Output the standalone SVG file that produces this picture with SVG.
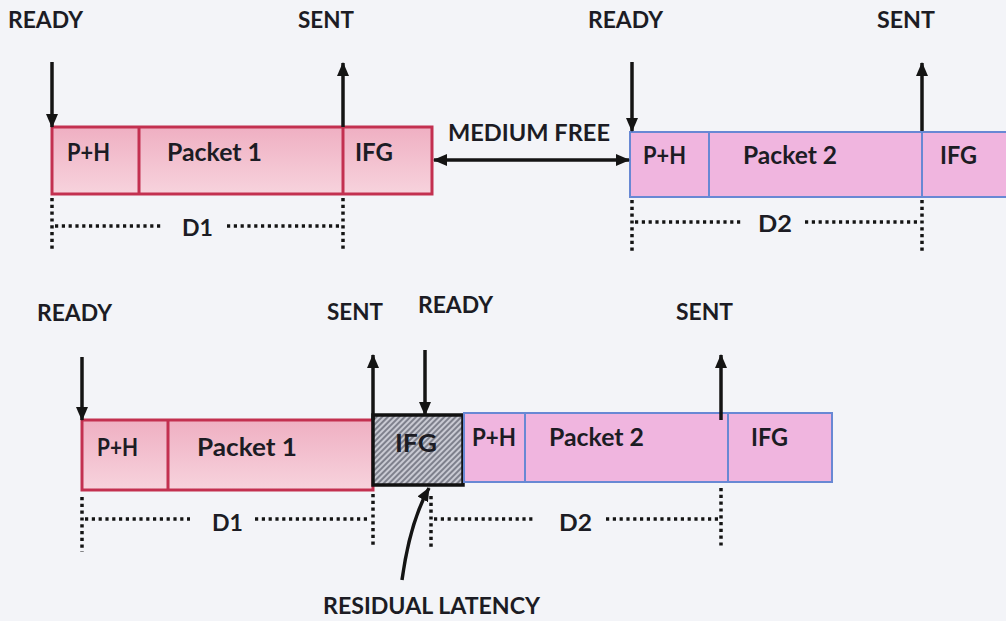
<svg xmlns="http://www.w3.org/2000/svg" width="1006" height="621" viewBox="0 0 1006 621">
  <style>
    .lbl { font-family: Lato, "Open Sans", "Liberation Sans", sans-serif; font-weight: 700; font-size: 22px; fill: #1c1c24; }
    .box-lbl { font-family: Lato, "Open Sans", "Liberation Sans", sans-serif; font-weight: 700; font-size: 24px; fill: #1c1c24; }
    .red { fill: url(#redFill); stroke: #c33050; stroke-width: 3; }
    .red-div { stroke: #c33050; stroke-width: 3; }
    .blue { fill: #f0b5df; stroke: #6888d4; stroke-width: 2; }
    .blue-div { stroke: #6888d4; stroke-width: 2; }
    .arrow { stroke: #141414; stroke-width: 3.5; fill: none; }
    .dots { stroke: #141414; stroke-width: 3.5; stroke-dasharray: 3.2 3.6; fill: none; }
  </style>
  <defs>
    <linearGradient id="redFill" x1="0" y1="0" x2="0" y2="1">
      <stop offset="0" stop-color="#efafc2"/>
      <stop offset="1" stop-color="#f7d3dd"/>
    </linearGradient>
    <pattern id="hatch" width="4" height="4" patternUnits="userSpaceOnUse" patternTransform="rotate(45)">
      <rect width="4" height="4" fill="#c9cad3"/>
      <rect width="2" height="4" fill="#7e808c"/>
    </pattern>
    <marker id="head" viewBox="0 0 14 12" refX="13" refY="6" markerWidth="14" markerHeight="12" markerUnits="userSpaceOnUse" orient="auto-start-reverse">
      <path d="M0,0 L14,6 L0,12 Z" fill="#141414"/>
    </marker>
  </defs>

  <rect width="1006" height="621" fill="#f3f4f8"/>

  <!-- Upper timeline: packet 1 frame -->
  <g id="frame1-top">
    <rect class="red" x="52" y="127" width="380" height="67"/>
    <line class="red-div" x1="139" y1="127" x2="139" y2="194"/>
    <line class="red-div" x1="343" y1="127" x2="343" y2="194"/>
    <text class="box-lbl" x="67" y="161" textLength="43" lengthAdjust="spacingAndGlyphs">P+H</text>
    <text class="box-lbl" x="167" y="161" textLength="95" lengthAdjust="spacingAndGlyphs">Packet 1</text>
    <text class="box-lbl" x="355" y="161" textLength="38" lengthAdjust="spacingAndGlyphs">IFG</text>
  </g>

  <!-- Upper timeline: packet 2 frame (runs off the right edge) -->
  <g id="frame2-top">
    <rect class="blue" x="630" y="132" width="400" height="65"/>
    <line class="blue-div" x1="709" y1="132" x2="709" y2="197"/>
    <line class="blue-div" x1="922" y1="132" x2="922" y2="197"/>
    <text class="box-lbl" x="643" y="164" textLength="43" lengthAdjust="spacingAndGlyphs">P+H</text>
    <text class="box-lbl" x="743" y="164" textLength="94" lengthAdjust="spacingAndGlyphs">Packet 2</text>
    <text class="box-lbl" x="940" y="164" textLength="37" lengthAdjust="spacingAndGlyphs">IFG</text>
  </g>

  <!-- Lower timeline: packet 1 frame -->
  <g id="frame1-bottom">
    <rect class="red" x="82" y="420" width="291" height="70"/>
    <line class="red-div" x1="168" y1="420" x2="168" y2="490"/>
    <text class="box-lbl" x="97" y="456" textLength="41" lengthAdjust="spacingAndGlyphs">P+H</text>
    <text class="box-lbl" x="197" y="456" textLength="100" lengthAdjust="spacingAndGlyphs">Packet 1</text>
  </g>

  <!-- Lower timeline: residual inter-frame gap -->
  <g id="ifg-residual">
    <rect x="373" y="415" width="90" height="70" fill="url(#hatch)" stroke="#111" stroke-width="3.5"/>
    <text class="box-lbl" x="395" y="452" textLength="42" lengthAdjust="spacingAndGlyphs" fill="#2a2a33">IFG</text>
  </g>

  <!-- Lower timeline: packet 2 frame -->
  <g id="frame2-bottom">
    <rect class="blue" x="464" y="413" width="368" height="69"/>
    <line class="blue-div" x1="525" y1="413" x2="525" y2="482"/>
    <line class="blue-div" x1="728" y1="413" x2="728" y2="482"/>
    <text class="box-lbl" x="472" y="446" textLength="44" lengthAdjust="spacingAndGlyphs">P+H</text>
    <text class="box-lbl" x="549" y="446" textLength="95" lengthAdjust="spacingAndGlyphs">Packet 2</text>
    <text class="box-lbl" x="751" y="446" textLength="37" lengthAdjust="spacingAndGlyphs">IFG</text>
  </g>

  <!-- Event labels -->
  <g id="labels">
    <text class="lbl" x="8" y="28" textLength="75" lengthAdjust="spacingAndGlyphs">READY</text>
    <text class="lbl" x="298" y="28" textLength="56" lengthAdjust="spacingAndGlyphs">SENT</text>
    <text class="lbl" x="588" y="28" textLength="75" lengthAdjust="spacingAndGlyphs">READY</text>
    <text class="lbl" x="877" y="28" textLength="58" lengthAdjust="spacingAndGlyphs">SENT</text>
    <text class="lbl" x="448" y="141" textLength="162" lengthAdjust="spacingAndGlyphs">MEDIUM FREE</text>
    <text class="lbl" x="182" y="236" textLength="31" lengthAdjust="spacingAndGlyphs">D1</text>
    <text class="lbl" x="758" y="232" textLength="34" lengthAdjust="spacingAndGlyphs">D2</text>

    <text class="lbl" x="37" y="321" textLength="75" lengthAdjust="spacingAndGlyphs">READY</text>
    <text class="lbl" x="327" y="320" textLength="56" lengthAdjust="spacingAndGlyphs">SENT</text>
    <text class="lbl" x="418" y="313" textLength="75" lengthAdjust="spacingAndGlyphs">READY</text>
    <text class="lbl" x="676" y="320" textLength="57" lengthAdjust="spacingAndGlyphs">SENT</text>
    <text class="lbl" x="212" y="531" textLength="31" lengthAdjust="spacingAndGlyphs">D1</text>
    <text class="lbl" x="559" y="531" textLength="33" lengthAdjust="spacingAndGlyphs">D2</text>
    <text class="lbl" x="323" y="614" textLength="217" lengthAdjust="spacingAndGlyphs">RESIDUAL LATENCY</text>
  </g>

  <!-- Connectors: event arrows, medium-free span, duration brackets -->
  <g id="connectors">
    <line class="arrow" x1="52" y1="62" x2="52" y2="127" marker-end="url(#head)"/>
    <line class="arrow" x1="343" y1="127" x2="343" y2="63" marker-end="url(#head)"/>
    <line class="arrow" x1="632" y1="62" x2="632" y2="131" marker-end="url(#head)"/>
    <line class="arrow" x1="922" y1="131" x2="922" y2="63" marker-end="url(#head)"/>
    <line class="arrow" x1="434" y1="160" x2="629" y2="160" marker-start="url(#head)" marker-end="url(#head)"/>

    <line class="arrow" x1="82" y1="357" x2="82" y2="420" marker-end="url(#head)"/>
    <line class="arrow" x1="373" y1="420" x2="373" y2="355" marker-end="url(#head)"/>
    <line class="arrow" x1="425" y1="350" x2="425" y2="415" marker-end="url(#head)"/>
    <line class="arrow" x1="721" y1="420" x2="721" y2="355" marker-end="url(#head)"/>
    <path class="arrow" d="M402,580 Q410,522 429,488" marker-end="url(#head)"/>

    <!-- D1 / D2 brackets, upper timeline -->
    <line class="dots" x1="52" y1="198" x2="52" y2="252"/>
    <line class="dots" x1="343" y1="198" x2="343" y2="252"/>
    <line class="dots" x1="55" y1="226" x2="163" y2="226"/>
    <line class="dots" x1="227" y1="226" x2="340" y2="226"/>
    <line class="dots" x1="632" y1="200" x2="632" y2="252"/>
    <line class="dots" x1="922" y1="200" x2="922" y2="252"/>
    <line class="dots" x1="635" y1="222" x2="743" y2="222"/>
    <line class="dots" x1="805" y1="222" x2="919" y2="222"/>

    <!-- D1 / D2 brackets, lower timeline -->
    <line class="dots" x1="82" y1="497" x2="82" y2="552"/>
    <line class="dots" x1="373" y1="494" x2="373" y2="548"/>
    <line class="dots" x1="85" y1="519" x2="190" y2="519"/>
    <line class="dots" x1="255" y1="519" x2="370" y2="519"/>
    <line class="dots" x1="431" y1="496" x2="431" y2="548"/>
    <line class="dots" x1="721" y1="488" x2="721" y2="548"/>
    <line class="dots" x1="434" y1="519" x2="536" y2="519"/>
    <line class="dots" x1="606" y1="519" x2="718" y2="519"/>
  </g>
</svg>
